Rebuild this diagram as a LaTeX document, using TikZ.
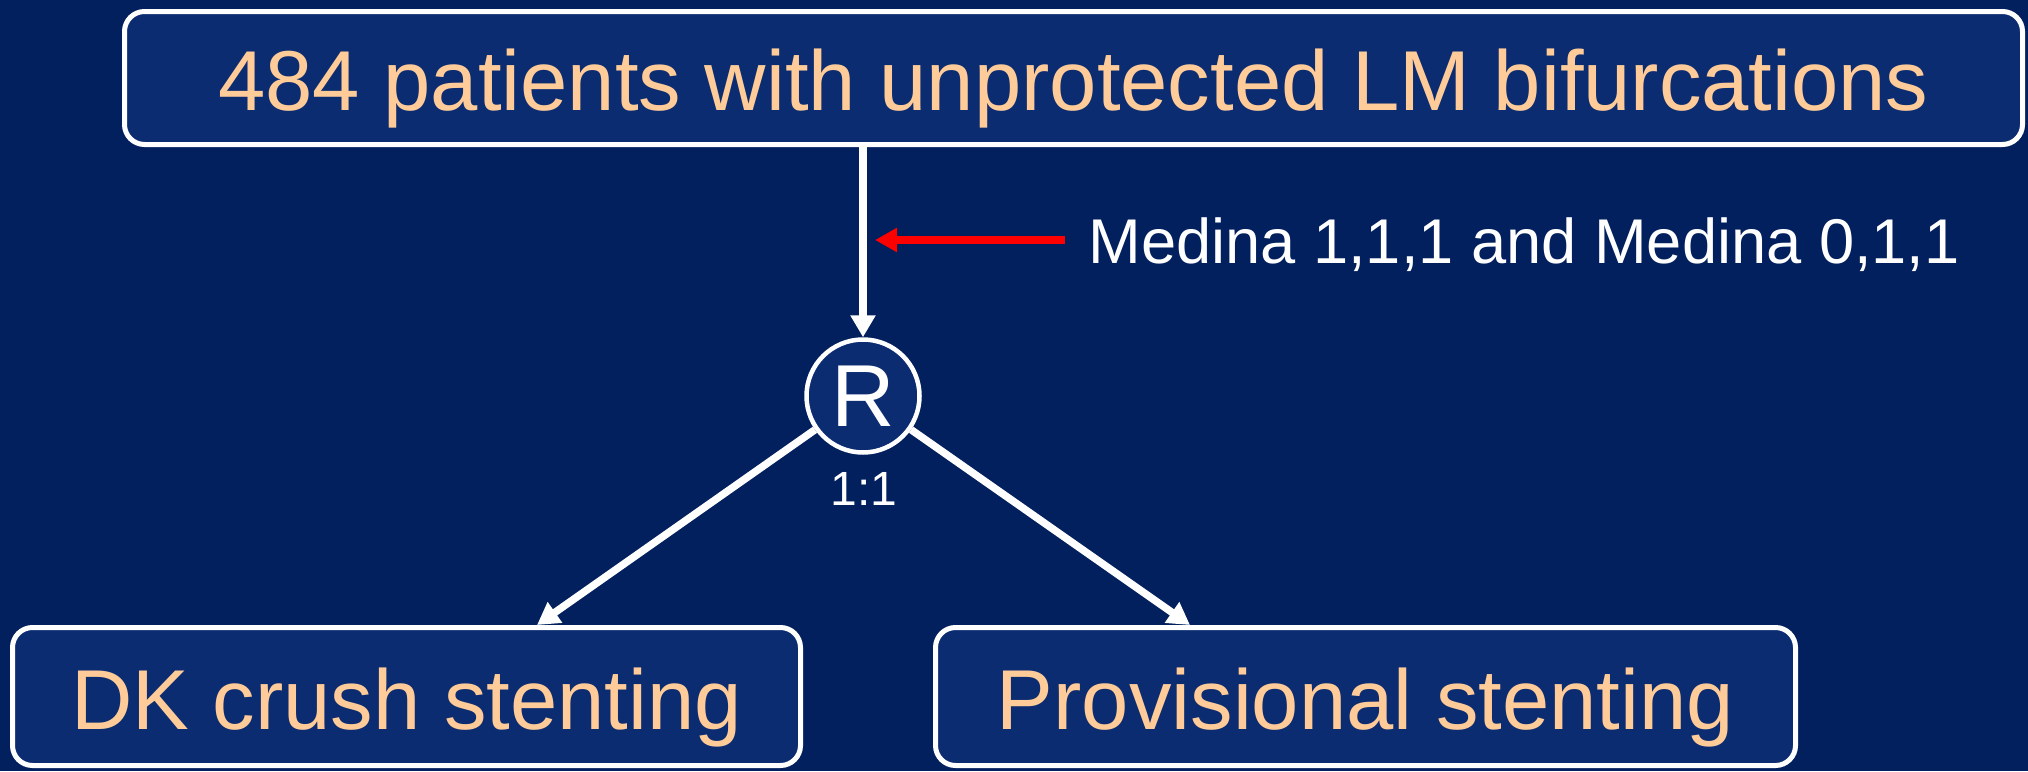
\documentclass[tikz,border=0pt]{standalone}
\usepackage{fontspec}
\setmainfont{Liberation Sans}
\usetikzlibrary{arrows.meta}
\definecolor{bgnavy}{RGB}{2,31,94}
\definecolor{boxfill}{RGB}{12,44,113}
\definecolor{peach}{RGB}{255,204,153}
\begin{document}
\begin{tikzpicture}[x=0.5pt,y=-0.5pt,
  box/.style={draw=white, line width=2.5pt, fill=boxfill, rounded corners=10pt,
    text=peach, font=\fontsize{42.5}{50}\selectfont, text height=32.5pt,
    text depth=0pt, inner sep=0pt},
  conn/.style={draw=white, line width=3.75pt, -{Triangle[length=11pt,width=12pt]}},
  redarrow/.style={draw=red, line width=4pt, -{Triangle[length=11pt,width=11.5pt]}},
  ]
\fill[bgnavy] (0,0) rectangle (2028,771);
\useasboundingbox (0,0) rectangle (2028,771);
\node[box, minimum width=949pt, minimum height=66.5pt] (top) at (1073.5,78)
  {484 patients with unprotected LM bifurcations};
\node[box, minimum width=394pt, minimum height=69pt] (dk) at (406.5,696.5)
  {DK crush stenting};
\node[box, minimum width=430pt, minimum height=69pt] (ps) at (1365.5,696.5)
  {Provisional stenting};
\node[circle, draw=white, line width=2.25pt, fill=boxfill, minimum size=56.5pt,
  inner sep=0pt, text=white, font=\fontsize{44}{50}\selectfont] (R) at (863,396) {R};
\node[anchor=base, text=white, font=\fontsize{24}{28}\selectfont, inner sep=0pt]
  (ratio) at (864,505) {1:1};
\node[anchor=base west, text=white, font=\fontsize{31.6}{36}\selectfont, inner sep=0pt]
  (medina) at (1088,263) {Medina 1,1,1 and Medina 0,1,1};
\coordinate (redstart) at (1065,240);
\coordinate (redtip) at (875,240);
\draw[conn] (R.north |- top.south) -- (R.north);
\draw[redarrow] (redstart) -- (redtip);
\draw[conn] (R) -- ([xshift=65.25pt]dk.north);
\draw[conn] (R) -- ([xshift=-87.75pt]ps.north);
\end{tikzpicture}
\end{document}
